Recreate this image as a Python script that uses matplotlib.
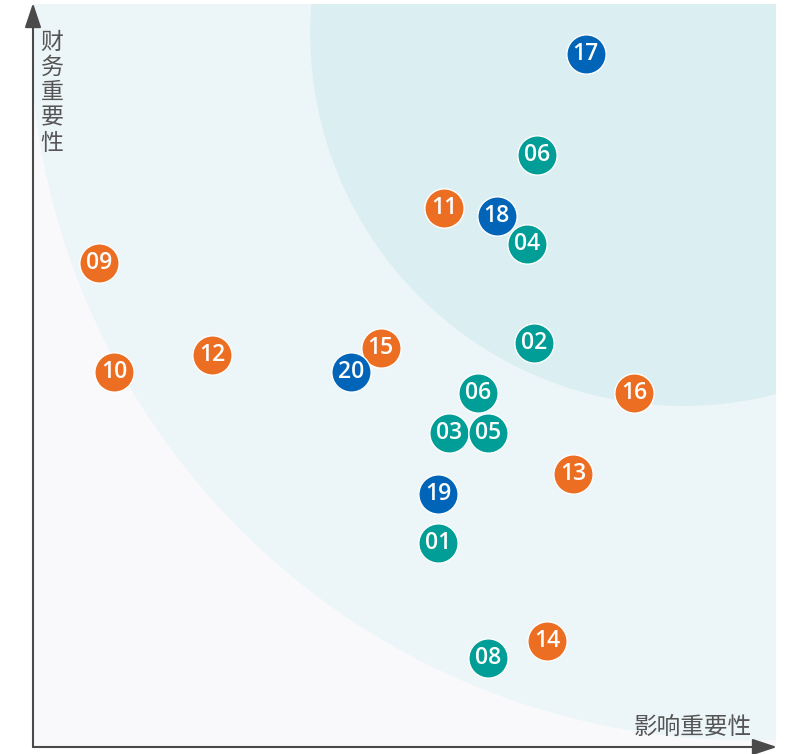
import numpy as np
import matplotlib.pyplot as plt
from matplotlib.patches import Circle, FancyArrowPatch

plt.rcParams['font.family'] = ['Noto Sans CJK SC', 'DejaVu Sans']

# topic scores, 0-100 on both axes
labels = ["17", "06", "11", "18", "04", "09", "02", "12", "10", "15", "20",
          "06", "16", "03", "05", "13", "19", "01", "14", "08"]
impact = [74.4, 67.8, 55.3, 62.4, 66.5, 8.9, 67.4, 24.1, 10.9, 46.8, 42.8,
          59.9, 80.9, 56.0, 61.2, 72.7, 54.5, 54.5, 69.2, 61.2]
finance = [93.3, 79.7, 72.5, 71.5, 67.7, 65.1, 54.4, 52.8, 50.5, 53.7, 50.5,
           47.6, 47.6, 42.3, 42.3, 36.7, 34.1, 27.5, 14.3, 12.0]
group = ["g", "e", "s", "g", "e", "s", "e", "s", "s", "s", "g",
         "e", "s", "e", "e", "s", "g", "e", "s", "e"]

colors = {"e": "#009e96", "s": "#ec6e22", "g": "#0065b8"}
bg = "#f9f9fc"
ring_outer = "#ecf5f8"
ring_inner = "#dbeef2"

fig = plt.figure(figsize=(7.92, 7.54), dpi=100)
ax = fig.add_axes([33 / 792, 7 / 754, 743 / 792, 743 / 754])
ax.set_xlim(0, 100)
ax.set_ylim(0, 100)
ax.set_facecolor(bg)
for s in ax.spines.values():
    s.set_visible(False)
ax.set_xticks([])
ax.set_yticks([])

# zones
ax.add_patch(Circle((96.4, 97.8), 96.8, color=ring_outer, zorder=1))
ax.add_patch(Circle((87.5, 96.1), 50.1, color=ring_inner, zorder=2))

for i in range(len(labels)):
    ax.scatter(impact[i], finance[i], s=800, color=colors[group[i]],
               edgecolors="white", linewidths=1, zorder=5 + i, clip_on=False)
    ax.text(impact[i], finance[i], labels[i], color="white", fontsize=16.5,
            family=["Open Sans", "DejaVu Sans"], fontweight="semibold",
            ha="center", va="center", zorder=5 + i)

# axes arrows
arr = dict(arrowstyle="-|>,head_length=1.5,head_width=0.5", color="#4a4a4a",
           lw=1.5, mutation_scale=10, shrinkA=0, shrinkB=0)
fig.patches.append(FancyArrowPatch((33, 7), (33, 751), transform=None, **arr))
fig.patches.append(FancyArrowPatch((33, 7), (777, 7), transform=None, **arr))

fig.text(52 / 792, 1 - 31 / 754, "财\n务\n重\n要\n性", color="#555555", fontsize=16.5,
         ha="center", va="top", linespacing=1.12)
fig.text(752 / 792, 1 - 734 / 754, "影响重要性", color="#555555", fontsize=17,
         ha="right", va="baseline")

fig.savefig("out.png", dpi=100)
